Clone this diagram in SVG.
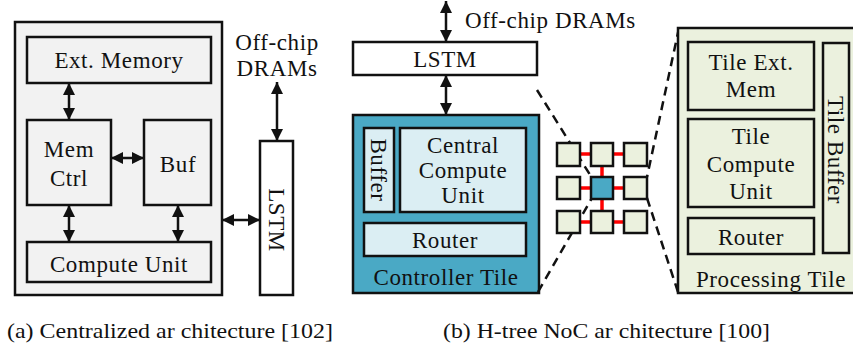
<svg xmlns="http://www.w3.org/2000/svg" width="853" height="347" viewBox="0 0 853 347">
<defs>
<style>
.t{font-family:"Liberation Serif","Times New Roman",serif;font-size:23px;letter-spacing:0.6px;fill:#111;text-anchor:middle}
.cap{font-family:"Liberation Serif","Times New Roman",serif;font-size:22px;fill:#111}
.b{stroke:#111;stroke-width:2.5}
.w{fill:#fff}
.g{fill:#f2f2f2}
.tl{fill:#4aa9c5}
.lb{fill:#dbeef3}
.gr{fill:#ebf1de}
.ar{stroke:#111;stroke-width:2.5;fill:none;marker-start:url(#ah);marker-end:url(#ah)}
.ds{stroke:#111;stroke-width:2.5;fill:none;stroke-dasharray:9,6}
.rd{stroke:#f00;stroke-width:3.5}
</style>
<marker id="ah" viewBox="0 0 12 12" refX="12" refY="6" markerWidth="12" markerHeight="12" markerUnits="userSpaceOnUse" orient="auto-start-reverse">
<path d="M0,0 L12,6 L0,12 z" fill="#111"/>
</marker>
</defs>

<!-- (a) Centralized -->
<g id="a-outer"><rect class="b g" x="15" y="22" width="207" height="273"/></g>
<g id="a-extmem"><rect class="b g" x="27" y="37" width="184" height="46"/><text class="t" x="119" y="68">Ext. Memory</text></g>
<g id="a-memctrl"><rect class="b g" x="27" y="120" width="84" height="85"/><text class="t" x="69" y="157">Mem</text><text class="t" x="69" y="186">Ctrl</text></g>
<g id="a-buf"><rect class="b g" x="144" y="120" width="67" height="85"/><text class="t" x="178" y="172">Buf</text></g>
<g id="a-compute"><rect class="b g" x="27" y="242" width="184" height="40"/><text class="t" x="119" y="272">Compute Unit</text></g>
<g id="a-lstm"><rect class="b w" x="260" y="141" width="33" height="154"/><text class="t" transform="translate(277,220) rotate(90)" y="8">LSTM</text></g>
<g id="a-dram"><text class="t" x="277" y="50">Off-chip</text><text class="t" x="277" y="76">DRAMs</text></g>

<!-- (b) H-tree -->
<g id="b-lstm"><rect class="b w" x="353" y="42" width="184" height="33"/><text class="t" x="445" y="67">LSTM</text></g>
<g id="b-dram"><text class="t" x="465" y="28" style="text-anchor:start">Off-chip DRAMs</text></g>
<g id="b-ctrl"><rect class="b tl" x="353" y="115" width="186" height="178"/><text class="t" x="446" y="285">Controller Tile</text></g>
<g id="b-buffer"><rect class="b lb" x="364" y="128" width="30" height="84"/><text class="t" transform="translate(379,170) rotate(90)" y="8">Buffer</text></g>
<g id="b-ccu"><rect class="b lb" x="400" y="128" width="126" height="84"/><text class="t" x="463" y="153">Central</text><text class="t" x="463" y="178">Compute</text><text class="t" x="463" y="203">Unit</text></g>
<g id="b-router"><rect class="b lb" x="364" y="223" width="162" height="33"/><text class="t" x="445" y="248">Router</text></g>

<g id="connectors">
<line class="ar" x1="69" y1="83" x2="69" y2="120"/>
<line class="ar" x1="111" y1="158" x2="144" y2="158"/>
<line class="ar" x1="69" y1="205" x2="69" y2="242"/>
<line class="ar" x1="178" y1="205" x2="178" y2="242"/>
<line class="ar" x1="222" y1="220" x2="260" y2="220"/>
<line class="ar" x1="277" y1="82" x2="277" y2="141"/>
<line class="ar" x1="446" y1="1" x2="446" y2="42"/>
<line class="ar" x1="446" y1="75" x2="446" y2="115"/>
<line class="ds" x1="537" y1="90" x2="592" y2="178"/>
<line class="ds" x1="538" y1="292" x2="592" y2="198"/>
<line class="ds" x1="679" y1="28" x2="647" y2="177"/>
<line class="ds" x1="647" y1="198" x2="678" y2="292"/>
<line class="rd" x1="580" y1="154" x2="591" y2="154"/>
<line class="rd" x1="613" y1="154" x2="624" y2="154"/>
<line class="rd" x1="580" y1="188" x2="591" y2="188"/>
<line class="rd" x1="613" y1="188" x2="624" y2="188"/>
<line class="rd" x1="580" y1="222" x2="591" y2="222"/>
<line class="rd" x1="613" y1="222" x2="624" y2="222"/>
<line class="rd" x1="602" y1="166" x2="602" y2="177"/>
<line class="rd" x1="602" y1="199" x2="602" y2="211"/>
</g>

<g id="grid">
<rect class="b gr" x="557" y="143" width="23" height="23"/>
<rect class="b gr" x="591" y="143" width="22" height="23"/>
<rect class="b gr" x="624" y="143" width="23" height="23"/>
<rect class="b gr" x="557" y="177" width="23" height="22"/>
<rect class="b tl" x="591" y="177" width="22" height="22"/>
<rect class="b gr" x="624" y="177" width="23" height="22"/>
<rect class="b gr" x="557" y="211" width="23" height="22"/>
<rect class="b gr" x="591" y="211" width="22" height="22"/>
<rect class="b gr" x="624" y="211" width="23" height="22"/>
</g>

<g id="p-tile"><rect class="b gr" x="678" y="28" width="190" height="265"/><text class="t" x="771" y="287">Processing Tile</text></g>
<g id="p-extmem"><rect class="b gr" x="688" y="42" width="126" height="68"/><text class="t" x="751" y="70">Tile Ext.</text><text class="t" x="751" y="97">Mem</text></g>
<g id="p-compute"><rect class="b gr" x="688" y="119" width="126" height="88"/><text class="t" x="751" y="144">Tile</text><text class="t" x="751" y="172">Compute</text><text class="t" x="751" y="199">Unit</text></g>
<g id="p-router"><rect class="b gr" x="688" y="218" width="126" height="36"/><text class="t" x="751" y="245">Router</text></g>
<g id="p-buffer"><rect class="b gr" x="823" y="43" width="26" height="210"/><text class="t" transform="translate(836,150) rotate(90)" y="8">Tile Buffer</text></g>

<g id="captions">
<text class="cap" x="7" y="338" textLength="326" lengthAdjust="spacingAndGlyphs">(a) Centralized ar chitecture [102]</text>
<text class="cap" x="443" y="338" textLength="327" lengthAdjust="spacingAndGlyphs">(b) H-tree NoC ar chitecture [100]</text>
</g>
</svg>
